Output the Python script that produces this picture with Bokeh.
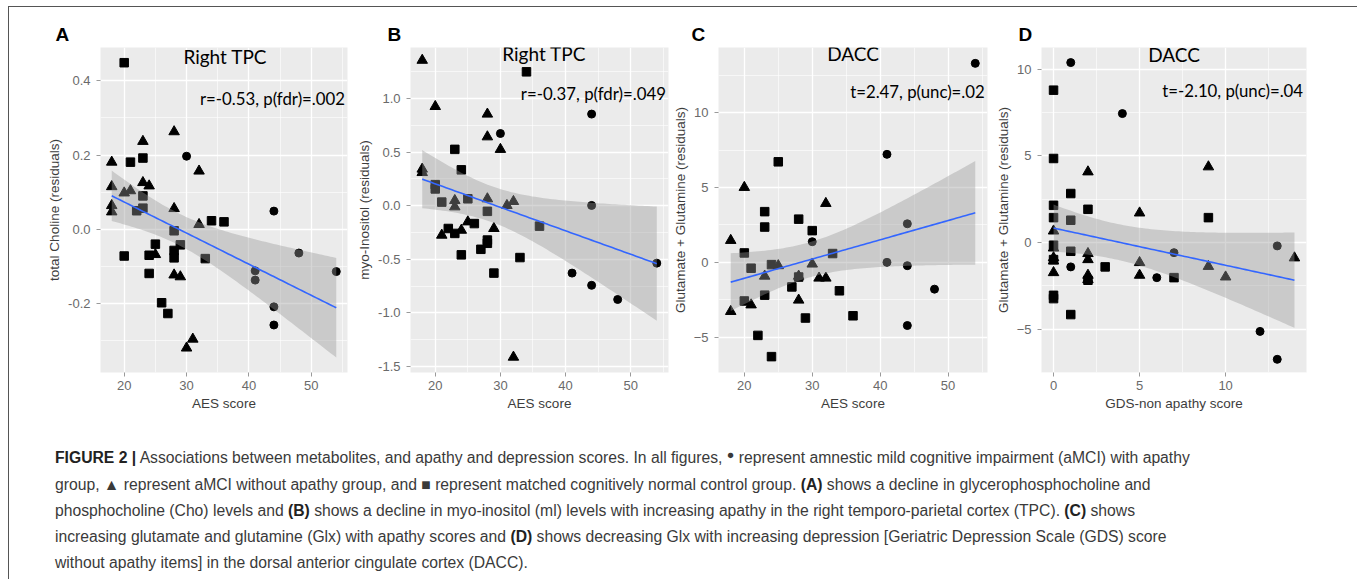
import numpy as np
from bokeh.plotting import figure
from bokeh.models import Range1d, FixedTicker, Label, Div, PrintfTickFormatter
from bokeh.layouts import row, column
from bokeh.embed import file_html
from bokeh.resources import INLINE

# ---------------- data ----------------
# Panel A: Right TPC, total Choline vs AES score
A_circ_x = [30, 44, 41, 41, 48, 54, 44, 44]
A_circ_y = [0.197, 0.049, -0.112, -0.137, -0.064, -0.114, -0.209, -0.258]
A_tri_x = [18, 18, 18, 18, 20, 21, 23, 23, 24, 28, 28, 32, 32, 25, 28, 29, 30, 31]
A_tri_y = [0.181, 0.115, 0.064, 0.047, 0.098, 0.104, 0.237, 0.126, 0.117, 0.263,
           0.056, 0.157, 0.013, -0.068, -0.123, -0.128, -0.320, -0.296]
A_sq_x = [20, 21, 23, 23, 23, 22, 20, 24, 25, 24, 28, 28, 28, 29, 33, 34, 36, 26, 27]
A_sq_y = [0.449, 0.181, 0.192, 0.090, 0.057, 0.050, -0.072, -0.070, -0.040, -0.119,
          -0.004, -0.057, -0.077, -0.042, -0.079, 0.023, 0.020, -0.198, -0.227]

# Panel B: Right TPC, myo-Inositol vs AES score
B_circ_x = [30, 44, 44, 41, 44, 48, 54]
B_circ_y = [0.674, 0.855, 0.003, -0.628, -0.742, -0.874, -0.535]
B_tri_x = [18, 20, 18, 18, 21, 23, 23, 24, 25, 28, 28, 30, 28, 31, 32, 29, 32]
B_tri_y = [1.357, 0.926, 0.342, 0.310, -0.274, 0.049, -0.010, -0.228, -0.150, 0.855,
           0.643, 0.526, 0.065, 0.003, 0.040, -0.212, -1.412]
B_sq_x = [34, 23, 24, 20, 20, 21, 22, 23, 25, 26, 28, 28, 28, 27, 24, 29, 33, 36]
B_sq_y = [1.249, 0.526, 0.335, 0.197, 0.157, 0.034, -0.212, -0.258, 0.065, -0.166,
          -0.052, -0.320, -0.350, -0.406, -0.458, -0.628, -0.483, -0.190]

# Panel C: DACC, Glx vs AES score
C_circ_x = [30, 41, 41, 44, 44, 44, 48, 54]
C_circ_y = [1.38, 7.22, 0.00, 2.58, -0.22, -4.22, -1.79, 13.30]
C_tri_x = [18, 18, 20, 21, 23, 25, 28, 28, 30, 31, 32, 32]
C_tri_y = [-3.28, 1.47, 5.01, -2.84, -0.92, -0.22, -0.92, -2.52, -0.11, -1.05, -1.05, 3.94]
C_sq_x = [20, 20, 21, 22, 23, 23, 23, 24, 24, 25, 27, 28, 28, 29, 30, 33, 34, 36]
C_sq_y = [0.63, -2.58, -0.39, -4.88, 3.39, 2.36, -2.19, -6.30, -0.15, 6.72, -1.64,
          2.89, -0.98, -3.72, 2.12, 0.59, -1.90, -3.57]

# Panel D: DACC, Glx vs GDS-non apathy score
D_circ_x = [1, 4, 1, 6, 7, 12, 13, 13]
D_circ_y = [10.38, 7.44, -1.40, -2.02, -0.58, -5.12, -0.19, -6.73]
D_sq_x = [0, 0, 0, 0, 0, 0, 0, 0, 1, 1, 1, 1, 2, 2, 3, 7, 9]
D_sq_y = [8.79, 4.85, 2.15, 1.44, -0.15, -0.98, -3.04, -3.23, 2.83, 1.29, -0.50,
          -4.15, 1.92, -2.17, -1.40, -2.02, 1.44]
D_tri_x = [0, 0, 0, 0, 0, 2, 2, 2, 2, 2, 5, 5, 5, 9, 9, 10, 14]
D_tri_y = [0.67, -0.31, -0.87, -1.06, -1.73, 4.08, -0.63, -0.98, -1.88, -2.13,
           1.71, -1.15, -1.88, 4.37, -1.37, -1.98, -0.88]

# tick values
AES_ticks = [20, 30, 40, 50]
AES_minor = [15, 25, 35, 45, 55]
A_yticks = [-0.2, 0.0, 0.2, 0.4]
A_yminor = [-0.3, -0.1, 0.1, 0.3]
B_yticks = [-1.5, -1.0, -0.5, 0.0, 0.5, 1.0]
B_yminor = [-1.25, -0.75, -0.25, 0.25, 0.75, 1.25]
GLX_ticks = [-5, 0, 5, 10]
C_yminor = [-7.5, -2.5, 2.5, 7.5, 12.5]
D_xticks = [0, 5, 10]
D_xminor = [-2.5, 2.5, 7.5, 12.5]
D_yminor = [-7.5, -2.5, 2.5, 7.5]

TICK_FONT = "Liberation Sans"
ANNOT_FONT = "Lato"


def fit_band(xs, ys, n_pts=80, tval=2.01):
    x = np.asarray(xs, float)
    y = np.asarray(ys, float)
    n = len(x)
    b1, b0 = np.polyfit(x, y, 1)
    grid = np.linspace(x.min(), x.max(), n_pts)
    fit = b0 + b1 * grid
    resid = y - (b0 + b1 * x)
    s = np.sqrt((resid ** 2).sum() / (n - 2))
    sxx = ((x - x.mean()) ** 2).sum()
    se = s * np.sqrt(1.0 / n + (grid - x.mean()) ** 2 / sxx)
    return grid, fit, fit - tval * se, fit + tval * se


def make_panel(width, mb_left, mb_right, mb_bottom, xr, yr, xticks, xminor, yticks, yminor,
               yfmt, xlabel, ylabel, letter, letter_offset, title, title_xy, annot, annot_xy,
               circ, tri, sq):
    p = figure(width=width, height=420, x_range=Range1d(*xr), y_range=Range1d(*yr),
               output_backend="svg", toolbar_location=None,
               min_border_left=mb_left, min_border_right=mb_right,
               min_border_top=40, min_border_bottom=mb_bottom)
    p.background_fill_color = "#EBEBEB"
    p.border_fill_color = "white"
    p.outline_line_color = None

    xt = FixedTicker(ticks=xticks, minor_ticks=xminor)
    yt = FixedTicker(ticks=yticks, minor_ticks=yminor)
    p.xaxis.ticker = xt
    p.yaxis.ticker = yt
    p.xgrid.ticker = xt
    p.ygrid.ticker = yt
    if yfmt:
        p.yaxis.formatter = PrintfTickFormatter(format=yfmt)
    for g in (p.xgrid, p.ygrid):
        g.grid_line_color = "white"
        g.grid_line_width = 1.3
        g.minor_grid_line_color = "white"
        g.minor_grid_line_width = 0.6

    p.axis.axis_line_color = None
    p.axis.major_tick_line_color = "#9a9a9a"
    p.axis.major_tick_out = 4
    p.axis.major_tick_in = 0
    p.axis.minor_tick_line_color = None
    p.axis.major_label_text_font = TICK_FONT
    p.axis.major_label_text_font_size = "13px"
    p.axis.major_label_text_color = "#6a6a6a"
    p.axis.axis_label_text_font = TICK_FONT
    p.axis.axis_label_text_font_size = "13.5px"
    p.axis.axis_label_text_font_style = "normal"
    p.axis.axis_label_text_color = "#3d3d3d"
    p.xaxis.major_label_standoff = 4
    p.yaxis.major_label_standoff = 6
    p.xaxis.axis_label_standoff = 3
    p.yaxis.axis_label_standoff = 3
    p.xaxis.axis_label = xlabel
    p.yaxis.axis_label = ylabel

    p.title.text = letter
    p.title.align = "left"
    p.title.offset = letter_offset
    p.title.text_font = "Liberation Sans"
    p.title.text_font_size = "19px"
    p.title.text_font_style = "bold"
    p.title.text_color = "black"
    p.title.standoff = 6

    cx, cy = circ
    tx, ty = tri
    sx, sy = sq
    p.scatter(sx, sy, marker="square", size=8.5, color="black")
    p.scatter(tx, ty, marker="triangle", size=10.5, color="black")
    p.scatter(cx, cy, marker="circle", size=8, color="black")

    grid, fit, lo, hi = fit_band(list(cx) + list(tx) + list(sx), list(cy) + list(ty) + list(sy))
    p.varea(x=grid, y1=lo, y2=hi, fill_color="#999999", fill_alpha=0.4)
    p.line(grid, fit, line_color="#3366FF", line_width=1.6)

    p.add_layout(Label(x=title_xy[0], y=title_xy[1], text=title, text_align="center",
                       text_baseline="middle", text_font=ANNOT_FONT, text_font_size="19px",
                       text_color="black"))
    p.add_layout(Label(x=annot_xy[0], y=annot_xy[1], text=annot, text_align="right",
                       text_baseline="middle", text_font=ANNOT_FONT, text_font_size="16.8px",
                       text_color="black"))
    return p


pA = make_panel(345, 91, 7, 51, (16.2, 55.8), (-0.386, 0.49), AES_ticks, AES_minor,
                A_yticks, A_yminor, "%.1f", "AES score", "total Choline (residuals)",
                "A", -45, "Right TPC", (36.2, 0.466), "r=-0.53, p(fdr)=.002", (55.4, 0.352),
                (A_circ_x, A_circ_y), (A_tri_x, A_tri_y), (A_sq_x, A_sq_y))
pB = make_panel(315, 50, 1, 51, (16.2, 55.8), (-1.555, 1.476), AES_ticks, AES_minor,
                B_yticks, B_yminor, "%.1f", "AES score", "myo-Inositol (residuals)",
                "B", -23, "Right TPC", (36.7, 1.418), "r=-0.37, p(fdr)=.049", (55.4, 1.05),
                (B_circ_x, B_circ_y), (B_tri_x, B_tri_y), (B_sq_x, B_sq_y))
pC = make_panel(323, 48, 5, 49, (16.2, 55.8), (-7.36, 14.36), AES_ticks, AES_minor,
                GLX_ticks, C_yminor, None, "AES score", "Glutamate + Glutamine (residuals)",
                "C", -27, "DACC", (36.0, 13.93), "t=2.47, p(unc)=.02", (55.4, 11.41),
                (C_circ_x, C_circ_y), (C_tri_x, C_tri_y), (C_sq_x, C_sq_y))
pD = make_panel(363, 44, 49, 55, (-0.7, 14.7), (-7.49, 11.25), D_xticks, D_xminor,
                GLX_ticks, D_yminor, None, "GDS-non apathy score", "Glutamate + Glutamine (residuals)",
                "D", -23, "DACC", (7.0, 10.87), "t=-2.10, p(unc)=.04", (14.5, 8.75),
                (D_circ_x, D_circ_y), (D_tri_x, D_tri_y), (D_sq_x, D_sq_y))

caption_lines = [
    '<b style="color:#222">FIGURE 2 |</b> Associations between metabolites, and apathy and depression scores. '
    'In all figures, <span style="position:relative;top:-4px;font-size:0.8em">&#9679;</span> represent amnestic mild '
    'cognitive impairment (aMCI) with apathy',
    'group, &#9650; represent aMCI without apathy group, and &#9632; represent matched cognitively normal control '
    'group. <b style="color:#222">(A)</b> shows a decline in glycerophosphocholine and',
    'phosphocholine (Cho) levels and <b style="color:#222">(B)</b> shows a decline in myo-inositol (ml) levels with '
    'increasing apathy in the right temporo-parietal cortex (TPC). <b style="color:#222">(C)</b> shows',
    'increasing glutamate and glutamine (Glx) with apathy scores and <b style="color:#222">(D)</b> shows decreasing '
    'Glx with increasing depression [Geriatric Depression Scale (GDS) score',
    'without apathy items] in the dorsal anterior cingulate cortex (DACC).',
]
caption_html = (
    '<div style="margin-left:41px; margin-top:13px; font-family:\'Liberation Sans\', Arial, sans-serif; '
    'font-size:16px; line-height:26px; color:#3a3a3a; white-space:nowrap; '
    'transform:scaleX(0.981); transform-origin:0 0;">'
    + "<br>".join(caption_lines) + "</div>"
)
caption = Div(text=caption_html, width=1346, height=148)

layout = column(row(pA, pB, pC, pD), caption,
                styles={"margin-left": "8px", "margin-top": "6px",
                        "border-left": "1px solid #555", "border-top": "1px solid #555",
                        "border-right": "2px solid #666"})

open("out.html", "w").write(file_html(layout, INLINE))
